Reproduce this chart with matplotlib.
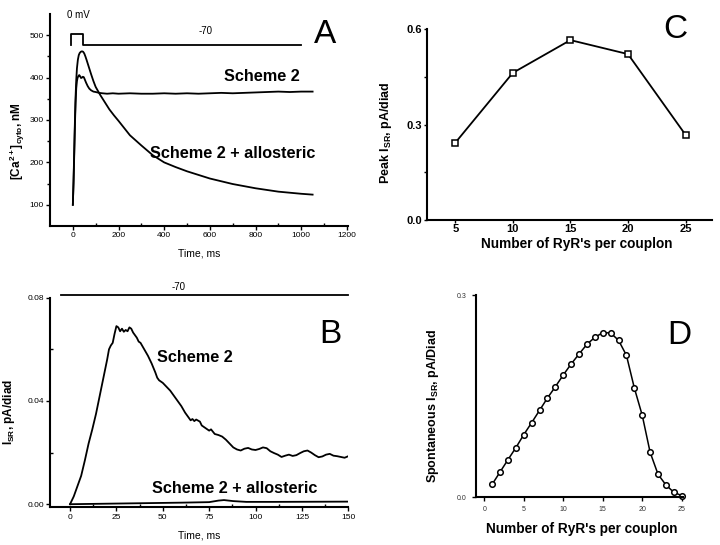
import numpy as np
import matplotlib
matplotlib.use("Agg")
import matplotlib.pyplot as plt

plt.rcParams['font.family'] = ['Liberation Sans', 'DejaVu Sans']
plt.rcParams['mathtext.default'] = 'regular'

# Panel A: cytosolic Ca2+ transients
tA_s2 = [0, 3, 6, 9, 12, 15, 18, 21, 25, 28, 32, 36, 40, 44, 48, 52, 58, 65, 72, 80, 90, 100,
         115, 130, 150, 175, 200, 250, 300, 350, 400, 450, 500, 550, 600, 650, 700, 750, 800,
         850, 900, 950, 1000, 1050]
caA_s2 = [100, 150, 215, 285, 340, 375, 392, 400, 404, 406, 403, 399, 400, 402, 401, 396, 388,
          380, 374, 370, 367, 366, 364, 363, 362, 363, 362, 363, 362, 362, 363, 362, 363, 362,
          363, 364, 363, 364, 365, 366, 367, 366, 367, 367]
tA_allo = [0, 3, 6, 9, 12, 15, 18, 22, 26, 30, 35, 40, 45, 50, 55, 60, 70, 80, 90, 100, 120,
           140, 160, 180, 200, 250, 300, 350, 400, 450, 500, 600, 700, 800, 900, 1000, 1050]
caA_allo = [100, 155, 225, 295, 355, 395, 422, 442, 453, 458, 461, 462, 461, 457, 450, 442,
            425, 408, 392, 378, 359, 342, 325, 311, 298, 264, 240, 217, 200, 189, 179, 162,
            149, 139, 131, 126, 124]
vA_t = [-10, -10, 45, 45, 1000]
vA_y = [476, 502, 502, 476, 476]

# Panel B: SR release current
tB_s2 = [0, 2, 4, 6, 8, 10, 12, 14, 16, 18, 20, 21, 22, 23, 24, 25, 26, 27, 28, 29, 30, 31, 32,
         33, 34, 35, 36, 37, 38, 40, 42, 44, 46, 47, 48, 50, 52, 54, 56, 58, 60, 62, 64, 65, 66,
         67, 68, 70, 71, 72, 74, 75, 76, 78, 80, 82, 84, 86, 88, 90, 92, 94, 96, 98, 100, 102,
         104, 106, 108, 110, 112, 114, 116, 118, 120, 122, 124, 126, 128, 130, 132, 134, 136,
         138, 140, 142, 144, 146, 148, 150]
iB_s2 = [0.0, 0.003, 0.007, 0.011, 0.017, 0.0235, 0.029, 0.035, 0.042, 0.049, 0.056, 0.06,
         0.0615, 0.0625, 0.066, 0.069, 0.0685, 0.067, 0.068, 0.0668, 0.0675, 0.067, 0.0685,
         0.068, 0.0665, 0.0655, 0.0645, 0.063, 0.0625, 0.06, 0.0575, 0.0545, 0.051, 0.049,
         0.048, 0.047, 0.0455, 0.044, 0.042, 0.04, 0.038, 0.0355, 0.0335, 0.0325, 0.033,
         0.0322, 0.0328, 0.032, 0.0305, 0.03, 0.029, 0.0285, 0.029, 0.0272, 0.0268, 0.0262,
         0.025, 0.0235, 0.022, 0.0212, 0.0208, 0.0215, 0.0218, 0.0212, 0.021, 0.0214, 0.022,
         0.0217, 0.0205, 0.0198, 0.0192, 0.0183, 0.0188, 0.0192, 0.0187, 0.019, 0.0198,
         0.0205, 0.0208, 0.02, 0.019, 0.0182, 0.0185, 0.0192, 0.0195, 0.0188, 0.0186, 0.0183,
         0.018, 0.0186]
tB_allo = [0, 20, 40, 60, 75, 80, 83, 88, 95, 110, 150]
iB_allo = [0.0, 0.0002, 0.0004, 0.0006, 0.0008, 0.0014, 0.0016, 0.0012, 0.0009, 0.0009, 0.001]

# Panel C: peak release vs couplon size
nC = [5, 10, 15, 20, 25]
peakC = [0.243, 0.463, 0.566, 0.522, 0.268]

# Panel D: spontaneous release vs couplon size
nD = list(range(1, 26))
spontD = [0.0193, 0.0376, 0.0558, 0.0736, 0.0929, 0.1107, 0.129, 0.1473, 0.164, 0.1814,
          0.1977, 0.2125, 0.2269, 0.2372, 0.2442, 0.2437, 0.2328, 0.2105, 0.1621, 0.1216,
          0.0667, 0.0341, 0.0183, 0.0074, 0.0025]

W, H = 720, 545
fig = plt.figure(figsize=(7.2, 5.45), dpi=100)


def box(l, t, r, b):
    return [l / W, 1 - b / H, (r - l) / W, (b - t) / H]


def style(ax, lw=1.5):
    for s in ['top', 'right']:
        ax.spines[s].set_visible(False)
    for s in ['left', 'bottom']:
        ax.spines[s].set_linewidth(lw)


lc = 'black'
fs_lbl = 11.7

# ---- A
axA = fig.add_axes(box(50, 14, 348, 226))
style(axA)
axA.plot(tA_s2, caA_s2, color=lc, lw=1.3)
axA.plot(tA_allo, caA_allo, color=lc, lw=1.3)
axA.plot(vA_t, vA_y, color=lc, lw=1.3)
axA.set_xlim(-100, 1205)
axA.set_ylim(50, 550)
axA.set_xticks(range(0, 1201, 200))
axA.set_xticks(range(100, 1200, 200), minor=True)
axA.set_yticks(range(100, 501, 100))
axA.set_yticks(range(150, 501, 100), minor=True)
axA.tick_params(axis='both', which='major', labelsize=6, length=3, width=1, pad=1.5)
axA.tick_params(axis='x', which='minor', direction='in', length=2, width=1)
axA.tick_params(axis='y', which='minor', direction='out', length=2, width=1)
axA.set_xlabel('Time, ms', fontsize=7.5)
axA.xaxis.set_label_coords(0.5, -0.104)
axA.set_ylabel('[Ca$^{2+}$]$_{cyto}$, nM', fontsize=8.5, fontweight='bold')
axA.yaxis.set_label_coords(-0.078, 0.40)
axA.text(26, 547, '0 mV', fontsize=7, ha='center', va='center')
axA.text(580, 509, '-70', fontsize=7, ha='center', va='center')
axA.text(664, 402, 'Scheme 2', fontsize=fs_lbl, fontweight='bold', va='center')
axA.text(338, 220, 'Scheme 2 + allosteric', fontsize=fs_lbl, fontweight='bold', va='center')
axA.text(1058, 502, 'A', fontsize=24, va='center')

# ---- B
axB = fig.add_axes(box(50, 297.7, 348.3, 507.3))
style(axB)
axB.plot(tB_s2, iB_s2, color=lc, lw=1.3)
axB.plot(tB_allo, iB_allo, color=lc, lw=1.3)
axB.plot([-5, 150], [0.081, 0.081], color=lc, lw=1.3, clip_on=False)
axB.set_xlim(-10.8, 150)
axB.set_ylim(-0.0012, 0.08)
axB.set_xticks(range(0, 151, 25))
axB.set_xticks(np.arange(12.5, 150, 25), minor=True)
axB.set_yticks([0.0, 0.04, 0.08])
axB.set_yticklabels(['0.00', '0.04', '0.08'])
axB.set_yticks([0.02, 0.06], minor=True)
axB.tick_params(axis='both', which='major', labelsize=6, length=3, width=1, pad=1.5)
axB.tick_params(axis='both', which='minor', direction='in', length=2, width=1)
axB.set_xlabel('Time, ms', fontsize=7.5)
axB.xaxis.set_label_coords(0.5, -0.113)
axB.set_ylabel('I$_{SR}$, pA/diad', fontsize=8.5, fontweight='bold')
axB.yaxis.set_label_coords(-0.11, 0.456)
axB.text(58.4, 0.0843, '-70', fontsize=7, ha='center', va='center')
axB.text(46.7, 0.0569, 'Scheme 2', fontsize=fs_lbl, fontweight='bold', va='center')
axB.text(44, 0.0062, 'Scheme 2 + allosteric', fontsize=fs_lbl, fontweight='bold', va='center')
axB.text(134.5, 0.0656, 'B', fontsize=24, va='center')

# ---- C
axC = fig.add_axes(box(426.5, 29.3, 712, 220))
style(axC)
axC.plot(nC, peakC, color=lc, lw=1.3, marker='s', markersize=4, mfc='white', mec=lc, mew=1.1)
axC.set_xlim(2.5, 27.3)
axC.set_ylim(0, 0.6)
axC.set_xticks(nC)
axC.set_yticks([0.0, 0.3, 0.6])
axC.set_yticklabels(['0.0', '0.3', '0.6'])
axC.set_yticks([0.15, 0.45], minor=True)
axC.tick_params(axis='both', which='major', labelsize=8, length=2.5, width=1, pad=0.5)
axC.tick_params(axis='y', which='minor', length=2.5, width=1)
for lab in axC.get_xticklabels() + axC.get_yticklabels():
    lab.set_fontweight('bold')
axC.set_xlabel("Number of RyR's per couplon", fontsize=9.8, fontweight='bold')
axC.xaxis.set_label_coords(0.526, -0.088)
axC.set_ylabel('Peak I$_{SR}$, pA/diad', fontsize=9, fontweight='bold')
axC.yaxis.set_label_coords(-0.114, 0.459)
axC.text(23.1, 0.598, 'C', fontsize=24, va='center')

# ---- D
axD = fig.add_axes(box(476, 295, 683.3, 497.3))
style(axD)
axD.plot(nD, spontD, color=lc, lw=1.1, marker='o', markersize=4, mfc='white', mec=lc, mew=1.1,
         clip_on=False)
axD.set_xlim(-1.05, 25.2)
axD.set_ylim(0, 0.3)
axD.set_xticks(range(0, 26, 5))
axD.set_yticks([0.0, 0.3])
axD.set_yticklabels(['0.0', '0.3'])
axD.tick_params(axis='both', which='major', labelsize=5, length=3, width=1, labelcolor='#333333')
axD.set_xlabel("Number of RyR's per couplon", fontsize=9.8, fontweight='bold')
axD.xaxis.set_label_coords(0.51, -0.122)
axD.set_ylabel('Spontaneous I$_{SR}$, pA/Diad', fontsize=9, fontweight='bold')
axD.yaxis.set_label_coords(-0.169, 0.452)
axD.text(23.15, 0.24, 'D', fontsize=24, va='center')

fig.savefig('out.png', dpi=100)
